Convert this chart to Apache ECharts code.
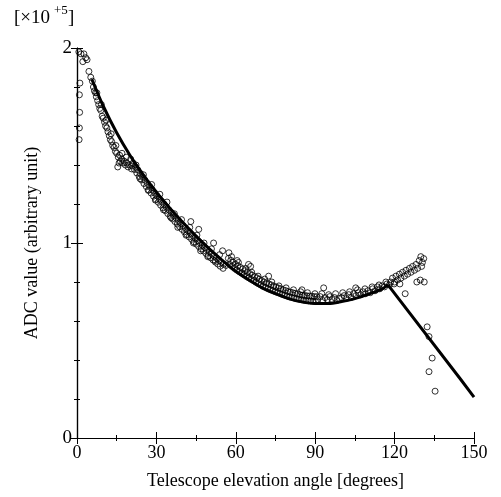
<!DOCTYPE html>
<html>
<head>
<meta charset="utf-8">
<script src="https://cdn.jsdelivr.net/npm/echarts@6/dist/echarts.min.js"></script>
<style>html,body{margin:0;padding:0;background:#fff}#c{width:501px;height:497px}</style>
</head>
<body>
<div id="c"></div>
<script>
// Fit curve, smooth part (angle in degrees, ADC value in units of 1e5)
const fitAngles = [5.6, 10, 15, 20, 25, 30, 35, 40, 45, 50, 55, 60, 65, 70, 75, 80, 85, 90, 95, 100, 105, 110, 115, 117.5];
const fitValues = [1.84, 1.70, 1.565, 1.45, 1.35, 1.26, 1.18, 1.105, 1.035, 0.97, 0.91, 0.855, 0.81, 0.77, 0.74, 0.715, 0.698, 0.69, 0.69, 0.70, 0.715, 0.737, 0.762, 0.785];
// Fit curve, straight falling part
const tailAngles = [117.5, 145, 150];
const tailValues = [0.785, 0.30, 0.21];

// Observed points [angle, value]
const obsPoints = [
[0.8,1.53],[0.9,1.59],[1.0,1.67],[0.9,1.76],[1.1,1.82],[0.7,1.98],[1.5,1.97],[2.6,1.97],[3.3,1.95],[3.8,1.94],[2.2,1.93],[4.5,1.88],[5.2,1.85],[5.8,1.83],
[6.2,1.80],[6.6,1.78],[7.0,1.77],[7.3,1.75],[7.8,1.73],[8.2,1.71],[8.6,1.69],[9.0,1.68],[9.5,1.65],[9.9,1.64],[10.4,1.62],[10.8,1.60],[11.3,1.59],[11.7,1.57],[12.2,1.55],[12.6,1.53],[13.1,1.52],[13.5,1.50],[14.0,1.49],[14.5,1.47],[15.0,1.46],[15.4,1.39],[15.9,1.41],[16.4,1.42],[16.9,1.43],[17.3,1.41],[17.8,1.42],[18.3,1.40],[18.8,1.41],[19.3,1.39],[19.8,1.40],[15.6,1.44],[16.1,1.45],
[7.5,1.77],[9.2,1.71],[11.0,1.63],[12.9,1.56],[14.7,1.50],[17.0,1.46],[18.6,1.44],
[20.3,1.43],[21.2,1.41],[22.1,1.39],[23.0,1.375],[23.9,1.357],[24.8,1.34],[25.7,1.322],[26.6,1.306],[27.5,1.29],[28.4,1.274],[29.3,1.258],[30.2,1.242],[31.1,1.227],[32.0,1.213],[32.9,1.199],[33.8,1.184],[34.7,1.17],[35.6,1.156],[36.5,1.142],[37.4,1.129],[38.3,1.116],[39.2,1.102],[40.1,1.089],[41.0,1.076],[41.9,1.063],[42.8,1.051],[43.7,1.038],[44.6,1.026],[45.5,1.013],[46.4,1.002],[47.3,0.99],[48.2,0.978],[49.1,0.967],[50.0,0.955],[50.9,0.944],[51.8,0.933],[52.7,0.923],[53.6,0.912],[54.5,0.901],[55.4,0.891],[56.3,0.885],
[20.8,1.395],[21.7,1.377],[22.6,1.359],[23.5,1.341],[24.4,1.323],[25.3,1.305],[26.2,1.289],[27.1,1.272],[28.0,1.256],[28.9,1.24],[29.8,1.224],[30.7,1.209],[31.6,1.194],[32.5,1.18],[33.4,1.166],[34.3,1.151],[35.2,1.137],[36.1,1.123],[37.0,1.11],[37.9,1.097],[38.8,1.083],[39.7,1.07],[40.6,1.057],[41.5,1.044],[42.4,1.031],[43.3,1.019],[44.2,1.006],[45.1,0.994],[46.0,0.982],[46.9,0.97],[47.8,0.959],[48.7,0.947],[49.6,0.935],[50.5,0.924],[51.4,0.913],[52.3,0.902],[53.2,0.892],[54.1,0.881],
[20.6,1.38],[22.3,1.40],[23.8,1.33],[25.1,1.35],[26.9,1.27],[28.2,1.30],[29.6,1.22],[31.3,1.25],[32.7,1.17],[34.0,1.21],[35.5,1.13],[36.8,1.15],[38.1,1.08],[39.5,1.12],[41.2,1.04],[42.6,1.08],[44.0,1.00],[45.3,1.04],[46.7,0.96],[48.0,1.00],[49.4,0.93],[50.8,0.97],[52.1,0.91],[53.9,0.94],[55.2,0.87],
[43.0,1.11],[46.0,1.07],[51.6,1.00],[55.0,0.96],[57.4,0.95],
[57.2,0.921],[58.1,0.911],[59.0,0.901],[59.9,0.891],[60.8,0.883],[61.7,0.875],[62.6,0.867],[63.5,0.858],[64.4,0.85],[65.3,0.843],[66.2,0.835],[67.1,0.828],[68.0,0.821],[68.9,0.814],[69.8,0.807],[70.7,0.80],[71.6,0.795],[72.5,0.79],[73.4,0.785],[74.3,0.779],[75.2,0.774],[76.1,0.769],[77.0,0.765],[77.9,0.76],[78.8,0.756],[79.7,0.751],[80.6,0.748],[81.5,0.745],[82.4,0.742],[83.3,0.739],[84.2,0.735],[85.1,0.732],[86.0,0.731],[86.9,0.729],[87.8,0.728],[88.7,0.727],[89.6,0.725],[90.5,0.725],
[57.7,0.89],[58.6,0.88],[59.5,0.87],[60.4,0.861],[61.3,0.853],[62.2,0.845],[63.1,0.837],[64.0,0.829],[64.9,0.821],[65.8,0.814],[66.7,0.807],[67.6,0.799],[68.5,0.792],[69.4,0.785],[70.3,0.778],[71.2,0.773],[72.1,0.767],[73.0,0.762],[73.9,0.757],[74.8,0.751],[75.7,0.746],[76.6,0.742],[77.5,0.737],[78.4,0.733],[79.3,0.728],[80.2,0.724],[81.1,0.721],[82.0,0.718],[82.9,0.715],[83.8,0.712],[84.7,0.709],[85.6,0.707],[86.5,0.705],[87.4,0.704],[88.3,0.703],[89.2,0.701],[90.1,0.70],
[58.4,0.93],[61.0,0.90],[63.7,0.87],[66.0,0.85],[68.4,0.83],[70.9,0.815],[73.6,0.80],[76.3,0.78],[79.0,0.77],[81.8,0.76],[84.5,0.75],[87.1,0.745],[89.9,0.74],[92.5,0.74],[95.1,0.735],[97.7,0.74],[100.4,0.745],[103.0,0.75],[106.0,0.76],[108.8,0.765],[111.5,0.775],[114.1,0.785],[116.7,0.80],
[91.0,0.71],[91.9,0.725],[92.8,0.705],[93.7,0.72],[94.6,0.71],[95.5,0.725],[96.4,0.71],[97.3,0.72],[98.2,0.705],[99.1,0.715],[100.0,0.72],[100.9,0.73],[101.8,0.715],[102.7,0.735],[103.6,0.72],[104.5,0.74],[105.4,0.73],[106.3,0.745],[107.2,0.735],[108.1,0.75],[109.0,0.74],[109.9,0.755],[110.8,0.745],[111.7,0.765],[112.6,0.755],[113.5,0.775],[114.4,0.765],[115.3,0.78],[116.2,0.775],[117.1,0.79],[118.0,0.785],
[65.6,0.88],[72.4,0.83],[93.2,0.77],[105.3,0.77],[64.8,0.89],[60.5,0.91],[85.0,0.76],
[118.5,0.80],[119.2,0.82],[119.8,0.79],[120.5,0.83],[121.1,0.81],[121.8,0.84],[122.4,0.82],[123.0,0.85],[123.7,0.83],[124.3,0.86],[124.9,0.84],[125.6,0.87],[126.2,0.85],[126.8,0.88],[127.5,0.86],[128.1,0.89],[128.7,0.87],[129.3,0.91],[129.9,0.93],[130.5,0.90],[131.0,0.92],[130.2,0.88],[128.4,0.80],[129.7,0.81],[131.2,0.80],[124.0,0.74],[120.0,0.80],[122.0,0.79],
[132.3,0.57],[133.0,0.52],[134.2,0.41],[133.0,0.34],[135.3,0.24]
];

const xTicks = [0, 30, 60, 90, 120, 150];
const yTicks = [0, 1, 2];
const xTitle = 'Telescope elevation angle [degrees]';
const yTitle = 'ADC value (arbitrary unit)';

const FONT = 'Liberation Serif';
const chart = echarts.init(document.getElementById('c'), null, {renderer: 'canvas'});
const axisCommon = {
  axisLine: {show: true, lineStyle: {color: '#000', width: 1.2}},
  axisTick: {show: true, inside: true, length: 6, lineStyle: {color: '#000', width: 1}},
  minorTick: {show: true, length: 3, lineStyle: {color: '#000', width: 1}},
  splitLine: {show: false},
  minorSplitLine: {show: false}
};
chart.setOption({
  animation: false,
  backgroundColor: '#fff',
  grid: {left: 77, right: 27, top: 48, bottom: 59},
  xAxis: [
    Object.assign({}, axisCommon, {
      type: 'value', min: xTicks[0], max: xTicks[xTicks.length-1], interval: 30,
      minorTick: Object.assign({}, axisCommon.minorTick, {splitNumber: 2}),
      axisLabel: {color: '#000', fontFamily: FONT, fontSize: 18, margin: 6},
      name: xTitle, nameLocation: 'middle', nameGap: 34,
      nameTextStyle: {color: '#000', fontFamily: FONT, fontSize: 18}
    }),
    Object.assign({}, axisCommon, {
      type: 'value', position: 'top', min: 0, max: 150, interval: 30,
      minorTick: Object.assign({}, axisCommon.minorTick, {splitNumber: 2}),
      axisLabel: {show: false}
    })
  ],
  yAxis: [
    Object.assign({}, axisCommon, {
      type: 'value', min: yTicks[0], max: yTicks[yTicks.length-1], interval: 1,
      minorTick: Object.assign({}, axisCommon.minorTick, {splitNumber: 5}),
      axisLabel: {color: '#000', fontFamily: FONT, fontSize: 19, margin: 5},
      name: yTitle, nameLocation: 'middle', nameGap: 36,
      nameTextStyle: {color: '#000', fontFamily: FONT, fontSize: 18}
    }),
    Object.assign({}, axisCommon, {
      type: 'value', position: 'right', min: 0, max: 2, interval: 1,
      minorTick: Object.assign({}, axisCommon.minorTick, {splitNumber: 5}),
      axisLabel: {show: false}
    })
  ],
  graphic: [
    {type: 'text', left: 14, top: 9, style: {text: '[×10', font: '19px "Liberation Serif"', fill: '#000'}},
    {type: 'text', left: 54, top: 4, style: {text: '+5', font: '13px "Liberation Serif"', fill: '#000'}},
    {type: 'text', left: 68, top: 9, style: {text: ']', font: '19px "Liberation Serif"', fill: '#000'}}
  ],
  series: [
    {
      type: 'scatter', data: obsPoints, symbol: 'circle', symbolSize: 6,
      itemStyle: {color: 'rgba(255,255,255,0)', borderColor: '#000', borderWidth: 1}, z: 2
    },
    {
      type: 'line', data: fitAngles.map((a, i) => [a, fitValues[i]]), smooth: 0.3, showSymbol: false,
      symbol: 'none', lineStyle: {color: '#000', width: 3}, z: 3
    },
    {
      type: 'line', data: tailAngles.map((a, i) => [a, tailValues[i]]), smooth: false, showSymbol: false,
      symbol: 'none', lineStyle: {color: '#000', width: 3, join: 'round'}, z: 3
    }
  ]
});
</script>
</body>
</html>
